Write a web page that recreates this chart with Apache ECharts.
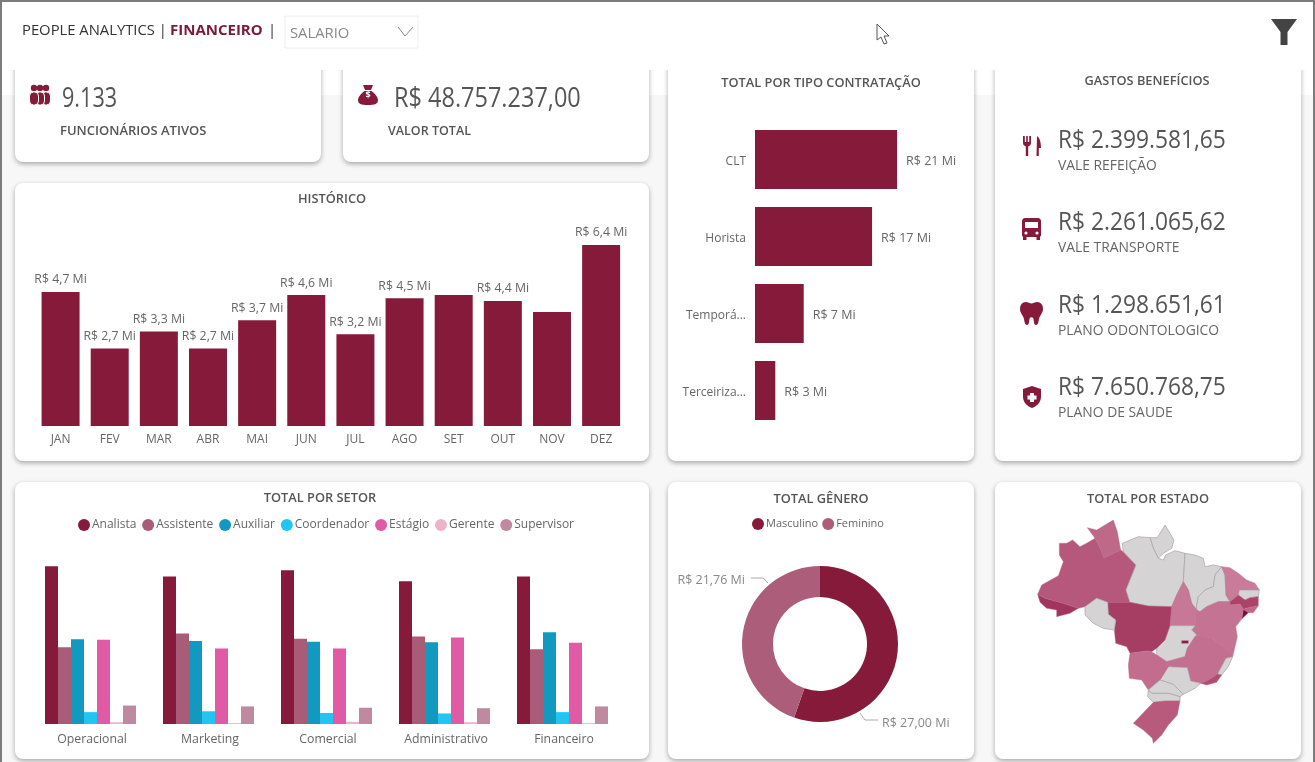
<!DOCTYPE html>
<html><head><meta charset="utf-8">
<style>html,body{margin:0;padding:0;background:#fff;overflow:hidden}#c{width:1315px;height:762px}</style>
<script src="https://cdn.jsdelivr.net/npm/echarts@6/dist/echarts.min.js"></script>
</head><body><div id="c"></div>
<script>
// ---------- data ----------
const months = ['JAN','FEV','MAR','ABR','MAI','JUN','JUL','AGO','SET','OUT','NOV','DEZ'];
const monthTotals = [4.74,2.74,3.34,2.74,3.74,4.63,3.24,4.52,4.63,4.42,4.03,6.4];
const monthsWithoutLabel = ['SET','NOV'];
const contractTypes = ['CLT','Horista','Temporá...','Terceiriza...'];
const contractTotals = [21,17.3,7.2,3];
const sectors = ['Operacional','Marketing','Comercial','Administrativo','Financeiro'];
const analista    = [3.59,3.36,3.50,3.25,3.36];
const assistente  = [1.75,2.06,1.94,1.99,1.70];
const auxiliar    = [1.93,1.89,1.87,1.86,2.09];
const coordenador = [0.27,0.29,0.25,0.24,0.27];
const estagio     = [1.92,1.72,1.72,1.97,1.85];
const gerente     = [0.04,0.02,0.05,0.04,0.02];
const supervisor  = [0.42,0.40,0.37,0.36,0.40];
const genderNames = ['Masculino','Feminino'];
const genderTotals = [27.00,21.76];
const genderText = ['R$ 27,00 Mi','R$ 21,76 Mi'];
const benefitNames = ['VALE REFEIÇÃO','VALE TRANSPORTE','PLANO ODONTOLOGICO','PLANO DE SAUDE'];
const benefitValues = ['R$ 2.399.581,65','R$ 2.261.065,62','R$ 1.298.651,61','R$ 7.650.768,75'];
const stateNames  = ['SE','DF','AC','MT','PE','RJ','AM','RS','RR','AL','MS','MG','BA','TO','CE','RN'];
const stateValues = [8.0,7.0,4.9,4.4,3.9,3.5,3.0,2.9,2.2,2.2,2.0,1.9,1.7,1.5,1.3,1.3];
const grayStates  = ['PA','AP','MA','PI','PB','RO','GO','ES','SP','PR','SC'];

// outline geometry of the states (shape file for the map)
const outlines = {
 RR:[[277,143],[305,150],[355,120],[367,155],[377,210],[327,233],[315,205],[300,175]],
 AM:[[193,190],[215,190],[233,180],[255,200],[280,187],[300,175],[315,205],[327,233],[377,210],[385,215],[423,255],[393,330],[405,367],[338,367],[305,355],[270,380],[250,385],[205,370],[150,355],[128,343],[140,315],[190,287],[205,245],[193,225]],
 AC:[[128,343],[150,355],[205,370],[250,385],[225,400],[185,410],[185,390],[155,385],[135,367]],
 AP:[[465,173],[487,173],[510,135],[525,160],[537,180],[530,205],[505,220],[490,235],[475,205]],
 PA:[[385,215],[382,190],[430,170],[465,173],[475,205],[490,235],[505,240],[512,225],[540,212],[570,220],[565,305],[545,345],[530,380],[460,378],[405,367],[393,330],[423,255]],
 MA:[[570,220],[600,225],[625,235],[630,260],[655,255],[680,260],[660,285],[655,320],[630,330],[610,350],[605,375],[605,390],[590,370],[580,330],[565,305]],
 PI:[[680,260],[690,285],[693,345],[705,365],[670,365],[635,380],[615,395],[605,390],[605,375],[610,350],[630,330],[655,320],[660,285]],
 CE:[[680,260],[705,263],[730,280],[755,300],[733,330],[730,345],[705,365],[693,345],[690,285]],
 RN:[[755,300],[780,310],[793,330],[763,330],[733,330]],
 PB:[[733,330],[763,330],[793,330],[790,350],[765,353],[750,360],[730,345]],
 PE:[[705,365],[730,345],[750,360],[765,353],[790,350],[790,377],[755,385],[745,388],[735,373],[705,375]],
 AL:[[745,388],[755,385],[790,377],[775,398],[760,398]],
 SE:[[745,388],[760,398],[740,417]],
 BA:[[605,390],[615,395],[635,380],[670,365],[705,365],[705,375],[735,373],[745,388],[740,417],[722,440],[727,470],[720,500],[713,530],[705,515],[650,475],[605,465],[590,450],[600,437],[603,400]],
 TO:[[565,305],[580,330],[590,370],[605,390],[603,400],[600,437],[525,437],[530,380],[545,345]],
 GO:[[525,437],[600,437],[590,450],[605,465],[600,470],[577,505],[570,530],[515,545],[485,525],[485,505],[510,480]],
 DF:[[560,482],[580,482],[580,490],[560,490]],
 MG:[[605,465],[650,475],[705,515],[713,530],[693,535],[668,582],[640,600],[617,610],[587,603],[577,563],[520,560],[515,545],[570,530],[577,505],[600,470]],
 ES:[[693,535],[713,530],[700,560],[680,585],[668,582]],
 RJ:[[668,582],[680,585],[665,607],[635,615],[617,610],[640,600]],
 SP:[[520,560],[577,563],[587,603],[617,610],[600,625],[565,643],[535,613],[495,600]],
 MT:[[338,367],[405,367],[460,378],[530,380],[525,437],[510,480],[485,505],[470,515],[455,513],[405,520],[395,500],[362,490],[358,450],[362,420],[340,403]],
 MS:[[405,520],[455,513],[470,515],[485,525],[515,545],[520,560],[495,600],[460,630],[440,600],[403,595],[400,555]],
 RO:[[305,355],[338,367],[340,403],[362,420],[358,450],[325,445],[295,430],[270,405],[270,380]],
 PR:[[460,630],[495,600],[535,613],[565,643],[555,650],[520,640],[470,640]],
 SC:[[460,630],[470,640],[520,640],[555,650],[555,663],[510,663],[475,667],[458,650]],
 RS:[[475,667],[510,663],[555,663],[547,705],[520,735],[500,765],[475,790],[472,775],[445,750],[415,730]]
};

// ---------- helpers ----------
const FONT = '"Open Sans", "Noto Sans", sans-serif';
const MAROON = '#861a3b';
const money1 = v => 'R$ ' + v.toFixed(1).replace('.', ',') + ' Mi';
const money0 = v => 'R$ ' + Math.round(v) + ' Mi';

const geo = {type:'FeatureCollection',features:Object.keys(outlines).map(k=>({
  type:'Feature',properties:{name:k},
  geometry:{type:'Polygon',coordinates:[outlines[k].map(p=>[p[0],-p[1]])]}
}))};
echarts.registerMap('BR', geo);
let xs=[],ys=[];Object.values(outlines).forEach(o=>o.forEach(p=>{xs.push(p[0]);ys.push(p[1]);}));
const minX=Math.min(...xs),maxX=Math.max(...xs),minY=Math.min(...ys),maxY=Math.max(...ys);

function card(x,y,w,h){return {type:'rect',shape:{x,y,width:w,height:h,r:8},style:{fill:'#fff',shadowBlur:5,shadowOffsetY:2,shadowColor:'rgba(0,0,0,0.32)'}};}
function txt(x,y,t,size,color,opt){opt=opt||{};return {type:'text',x,y:y+2,z:1,scaleX:opt.sx||1,style:{text:t,font:(opt.weight||'400')+' '+size+'px '+FONT,fill:color,textAlign:opt.align||'left',textVerticalAlign:'middle',verticalAlign:'middle'}};}
function title(cx,y,t){return txt(cx,y,t,12.8,'#555',{align:'center',weight:'600'});}
let iconCount=0;
function icon(x,y,d,fill){const name='ic'+(iconCount++);echarts.graphic.registerShape(name,echarts.graphic.extendPath(d,{}));return {type:name,x,y,z:1,style:{fill:fill||MAROON}};}

const g = [];
// page
g.push({type:'rect',shape:{x:0,y:95,width:1315,height:667},style:{fill:'#f7f7f7'}});
g.push(card(15,50,306,112),card(343,50,306,112),card(15,183,634,278),card(668,50,306,411),card(995,50,306,411),card(15,482,634,277),card(668,482,306,277),card(995,482,306,277));
// header bar sits above the top cards
g.push({type:'rect',z:1,shape:{x:0,y:0,width:1315,height:70},style:{fill:'#fff'}});
// frame
g.push({type:'rect',z:3,shape:{x:0,y:0,width:1315,height:2},style:{fill:'#7c7c7c'}});
g.push({type:'rect',z:3,shape:{x:0,y:0,width:2,height:762},style:{fill:'#7c7c7c'}});
g.push({type:'rect',z:3,shape:{x:1313,y:0,width:2,height:762},style:{fill:'#7c7c7c'}});
// header
g.push(txt(22,29,'PEOPLE ANALYTICS |',14.8,'#333'));
g.push(txt(170,29,'FINANCEIRO',15,'#7d1a3c',{weight:'700'}));
g.push(txt(268,29,'|',14.8,'#333'));
g.push({type:'rect',z:1,shape:{x:285,y:16,width:133,height:32},style:{fill:'#fff',stroke:'#eeeeee',lineWidth:1}});
g.push(txt(290,32,'SALARIO',14.8,'#888'));
g.push({type:'polyline',z:1,shape:{points:[[398,27],[405,36],[413,27]]},style:{stroke:'#888',lineWidth:1,fill:null}});
g.push(icon(1271,19,'M0 0 L26 0 L16.5 13 L16.5 26 L9.5 26 L9.5 13 Z','#444'));
g.push({type:'polygon',z:1,shape:{points:[[877,24],[877,40],[881,37],[884,44],[887,43],[884,36],[889,36]]},style:{fill:'#fff',stroke:'#555',lineWidth:1}});
// kpi cards
g.push(txt(62,97,'9.133',27,'#555',{sx:0.8}));
g.push(txt(60,129,'FUNCIONÁRIOS ATIVOS',13,'#555',{weight:'600'}));
g.push(txt(394,97,'R$ 48.757.237,00',27,'#555',{sx:0.87}));
g.push(txt(388,129,'VALOR TOTAL',12.5,'#555',{weight:'600'}));
// people icon
[[46,0.8],[40,1],[34,1]].forEach(p=>{
  g.push({type:'circle',z:1,shape:{cx:p[0],cy:88,r:3.2},style:{fill:MAROON}});
  g.push({type:'rect',z:1,shape:{x:p[0]-4.5,y:92,width:9,height:13,r:4},style:{fill:MAROON,stroke:'#fff',lineWidth:1}});
});
// money bag
g.push(icon(358,85,'M5 0 L15 0 L13 5 L7 5 Z M6.5 6 L13.5 6 C18 9 20 13 20 15 C20 19 17 20 10 20 C3 20 0 19 0 15 C0 13 2 9 6.5 6 Z'));
g.push(txt(368,93,'$',9,'#fff',{align:'center',weight:'700'}));
// titles
g.push(title(332,197,'HISTÓRICO'));
g.push(title(821,81,'TOTAL POR TIPO CONTRATAÇÃO'));
g.push(title(1147,79,'GASTOS BENEFÍCIOS'));
g.push(title(320,496,'TOTAL POR SETOR'));
g.push(title(821,497,'TOTAL GÊNERO'));
g.push(title(1148,497,'TOTAL POR ESTADO'));
// benefits
const by=[139,221,304,386];
benefitValues.forEach((v,i)=>{
  g.push(txt(1058,by[i],v,26,'#555',{sx:0.875}));
  g.push(txt(1058,by[i]+25,benefitNames[i],14,'#666',{sx:0.99}));
});
// fork + knife
g.push(icon(1023,136,'M0 0 L1.8 0 L1.8 6 L3.2 6 L3.2 0 L4.8 0 L4.8 6 L6.2 6 L6.2 0 L8 0 L8 7 C8 9.5 6 10 5.2 10.5 L5.2 20 L2.8 20 L2.8 10.5 C2 10 0 9.5 0 7 Z M14 0 C17 2 18 7 18 12 L15.8 12 L15.8 20 L13.5 20 Z'));
// bus
g.push(icon(1022,218,'M3 0 L16 0 C18 0 19 2 19 3 L19 17 C19 18 18.5 18.5 18 18.5 L18 22 L14.5 22 L14.5 19 L4.5 19 L4.5 22 L1 22 L1 18.5 C0.5 18.5 0 18 0 17 L0 3 C0 2 1 0 3 0 Z'));
g.push({type:'rect',z:1,shape:{x:1025,y:222,width:13,height:6},style:{fill:'#fff'}});
g.push({type:'circle',z:1,shape:{cx:1026,cy:233,r:1.6},style:{fill:'#fff'}});
g.push({type:'circle',z:1,shape:{cx:1037,cy:233,r:1.6},style:{fill:'#fff'}});
// tooth
g.push(icon(1020,302,'M6 0 C8 0 10 1.5 11.5 1.5 C13 1.5 15 0 17 0 C21 0 23 3 23 7 C23 11 20 13 19 17 C18.5 20 18 23 16 23 C14 23 14 20 13.5 17 C13 14.5 10 14.5 9.5 17 C9 20 9 23 7 23 C5 23 4.5 20 4 17 C3 13 0 11 0 7 C0 3 2 0 6 0 Z'));
// shield
g.push(icon(1023,386,'M9 0 L18 3 L18 11 C18 16 14 20 9 22 C4 20 0 16 0 11 L0 3 Z'));
g.push({type:'rect',z:1,shape:{x:1030,y:393,width:4,height:9},style:{fill:'#fff'}});
g.push({type:'rect',z:1,shape:{x:1027.5,y:395.5,width:9,height:4},style:{fill:'#fff'}});
// donut leader lines
g.push({type:'polyline',z:3,shape:{points:[[751,578],[763,578],[768,583]]},style:{stroke:'#aaa',lineWidth:1,fill:null}});
g.push({type:'polyline',z:3,shape:{points:[[860,713],[865,720],[878,720]]},style:{stroke:'#aaa',lineWidth:1,fill:null}});

const axisText = {color:'#666',fontSize:12,fontFamily:FONT};
function hiddenVal(gridIndex,max){return {type:'value',gridIndex,min:0,max,show:false};}
function catAxis(gridIndex,data,margin,extra){return {type:'category',gridIndex,data,axisLine:{show:false},axisTick:{show:false},axisLabel:Object.assign({margin,interval:0},axisText,extra||{})};}

const sectorColors = {Analista:'#861a3b',Assistente:'#a95c78',Auxiliar:'#1299bf',Coordenador:'#22c5f0','Estágio':'#e05aa5',Gerente:'#eeb3c9',Supervisor:'#bf8a9f'};
const sectorSeries = [['Analista',analista],['Assistente',assistente],['Auxiliar',auxiliar],['Coordenador',coordenador],['Estágio',estagio],['Gerente',gerente],['Supervisor',supervisor]];

const chart = echarts.init(document.getElementById('c'),null,{renderer:'canvas'});
chart.setOption({
  animation:false,
  textStyle:{fontFamily:FONT},
  graphic:{elements:g},
  grid:[
    {left:36,top:228,width:589.7,height:198},
    {left:755,top:121,width:203,height:308},
    {left:31.5,top:548.3,width:590,height:175.7}
  ],
  xAxis:[catAxis(0,months,8),hiddenVal(1,30),catAxis(2,sectors,9,{fontSize:12.3,padding:[0,0,0,3]})],
  yAxis:[hiddenVal(0,7),Object.assign(catAxis(1,contractTypes,9,{formatter:'{a|{value}}',rich:{a:{color:'#666',fontSize:12,fontFamily:FONT,padding:[4,0,0,0]}}}),{inverse:true}),hiddenVal(2,4)],
  legend:[
    {left:78,top:519,icon:'circle',itemWidth:12,itemHeight:12,itemGap:5.8,padding:0,data:sectorSeries.map(s=>s[0]),
      textStyle:{color:'#666',fontSize:12,fontFamily:FONT,padding:[0,0,0,-3]}},
    {left:752,top:518,icon:'circle',itemWidth:12,itemHeight:12,itemGap:4,padding:0,data:genderNames,
      textStyle:{color:'#666',fontSize:11,fontFamily:FONT,padding:[0,0,0,-3]}}
  ],
  series:[
    {type:'bar',xAxisIndex:0,yAxisIndex:0,barWidth:38,itemStyle:{color:MAROON},
      data:monthTotals.map((v,i)=>({value:v,label:{show:!monthsWithoutLabel.includes(months[i])}})),
      label:{position:'top',distance:6,color:'#666',fontSize:12.3,fontFamily:FONT,formatter:p=>money1(p.value)}},
    {type:'bar',xAxisIndex:1,yAxisIndex:1,barWidth:59,itemStyle:{color:MAROON},data:contractTotals,
      label:{show:true,position:'right',distance:9,offset:[0,2],color:'#666',fontSize:12.5,fontFamily:FONT,formatter:p=>money0(p.value)}},
    ...sectorSeries.map(s=>({type:'bar',name:s[0],xAxisIndex:2,yAxisIndex:2,barWidth:13,barGap:0,
      itemStyle:{color:sectorColors[s[0]]},data:s[1]})),
    {type:'pie',center:[820,644],radius:[47,78],startAngle:90,
      data:genderNames.map((n,i)=>({name:n,value:genderTotals[i],itemStyle:{color:['#861a3b','#ab5d79'][i]}})),
      label:{show:true,position:'outside',color:'#888',fontSize:12.5,fontFamily:FONT,formatter:p=>genderText[p.dataIndex]},
      labelLine:{show:false},
      labelLayout:p=>p.dataIndex===0?{x:882,y:723,align:'left',verticalAlign:'middle'}:{x:745,y:580,align:'right',verticalAlign:'middle'}},
    {type:'map',map:'BR',aspectScale:1,roam:false,showLegendSymbol:false,
      left:995+minX/3,top:480+minY/3,width:(maxX-minX)/3,height:(maxY-minY)/3,
      label:{show:false},silent:true,
      itemStyle:{areaColor:'#d5d3d4',borderColor:'#a8a2a4',borderWidth:0.7},
      data:stateNames.map((n,i)=>({name:n,value:stateValues[i],itemStyle:{borderColor:'rgba(190,105,140,0.7)',borderWidth:0.6}})).concat(grayStates.map(n=>({name:n,itemStyle:{areaColor:'#d5d3d4'}})))}
  ],
  visualMap:{show:false,min:0,max:8,seriesIndex:10,inRange:{color:['#d898b2','#ab4268','#7a0c35']}}
});
</script></body></html>
